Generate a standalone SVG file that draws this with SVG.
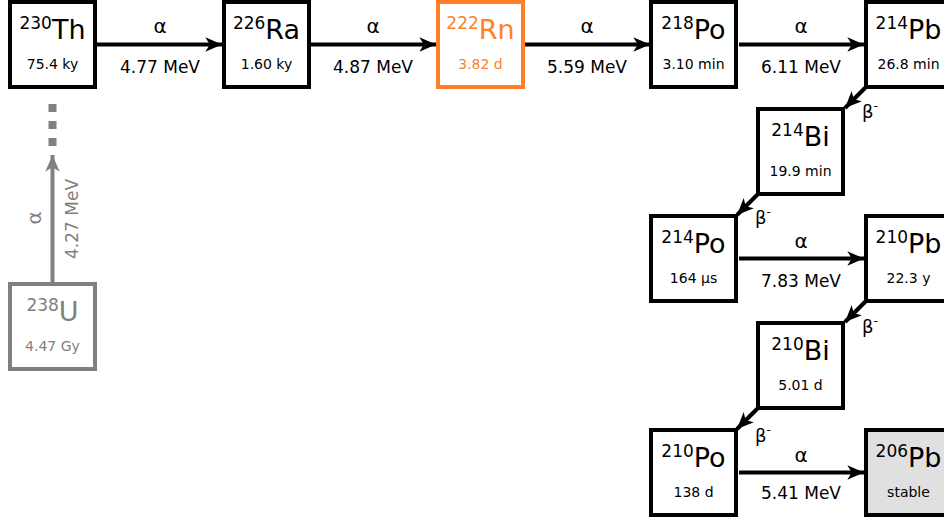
<svg xmlns="http://www.w3.org/2000/svg" width="944" height="520" viewBox="0 0 944 520">
  <style>
    text { font-family: "DejaVu Sans", Verdana, sans-serif; fill: #000; }
    .box { fill: #fff; stroke: #000; stroke-width: 4; }
    .rn .box { stroke: #ff7f2a; }
    .rn text { fill: #ff7f2a; }
    .u .box { stroke: #808080; }
    .u text { fill: #808080; }
    .stable .box { fill: #e0e0e0; }
    .sym { font-size: 27px; text-anchor: middle; }
    .mass { font-size: 17px; }
    .half { font-size: 14px; text-anchor: middle; }
    .lbl { font-size: 17px; text-anchor: middle; }
    .greek { font-size: 20px; text-anchor: middle; }
    .beta { font-size: 18px; }
    .edge { stroke: #000; stroke-width: 4; fill: none; marker-end: url(#head); }
    .edge.grey { stroke: #808080; marker-end: url(#headGrey); }
    .gtext { fill: #808080; }
  </style>
  <defs>
    <marker id="head" markerUnits="userSpaceOnUse" markerWidth="20" markerHeight="20" viewBox="-16 -8 18 16" refX="0" refY="0" orient="auto">
      <path d="M0,0 L-15,-6.5 L-11,0 L-15,6.5 Z" fill="#000"/>
    </marker>
    <marker id="headGrey" markerUnits="userSpaceOnUse" markerWidth="20" markerHeight="20" viewBox="-16 -8 18 16" refX="0" refY="0" orient="auto">
      <path d="M0,0 L-15,-6.5 L-11,0 L-15,6.5 Z" fill="#808080"/>
    </marker>
  </defs>

  <!-- decay connectors -->
  <g id="connectors">
    <line class="edge" x1="97" y1="44.5" x2="222" y2="44.5"/>
    <line class="edge" x1="311" y1="44.5" x2="436" y2="44.5"/>
    <line class="edge" x1="525" y1="44.5" x2="650" y2="44.5"/>
    <line class="edge" x1="739" y1="44.5" x2="864" y2="44.5"/>
    <line class="edge" x1="868" y1="85" x2="845" y2="108"/>
    <line class="edge" x1="760" y1="192" x2="737" y2="215"/>
    <line class="edge" x1="739" y1="258.5" x2="864" y2="258.5"/>
    <line class="edge" x1="868" y1="299" x2="845" y2="322"/>
    <line class="edge" x1="760" y1="406" x2="737" y2="429"/>
    <line class="edge" x1="739" y1="472.5" x2="864" y2="472.5"/>
    <line class="edge grey" x1="52.5" y1="282" x2="52.5" y2="155"/>
    <line x1="52.5" y1="104" x2="52.5" y2="147" stroke="#808080" stroke-width="8" stroke-dasharray="8 9"/>

    <text class="greek" x="160" y="33">α</text>
    <text class="lbl" x="160" y="73">4.77 MeV</text>
    <text class="greek" x="373" y="33">α</text>
    <text class="lbl" x="373" y="73">4.87 MeV</text>
    <text class="greek" x="587" y="33">α</text>
    <text class="lbl" x="587" y="73">5.59 MeV</text>
    <text class="greek" x="801" y="33">α</text>
    <text class="lbl" x="801" y="73">6.11 MeV</text>
    <text class="greek" x="801" y="248">α</text>
    <text class="lbl" x="801" y="287">7.83 MeV</text>
    <text class="greek" x="801" y="462">α</text>
    <text class="lbl" x="801" y="499">5.41 MeV</text>

    <text class="beta" x="862" y="118">β<tspan font-size="12" dy="-8">-</tspan></text>
    <text class="beta" x="755" y="224">β<tspan font-size="12" dy="-8">-</tspan></text>
    <text class="beta" x="862" y="333">β<tspan font-size="12" dy="-8">-</tspan></text>
    <text class="beta" x="755" y="442">β<tspan font-size="12" dy="-8">-</tspan></text>

    <text class="greek gtext" transform="translate(41 218) rotate(-90)">α</text>
    <text class="lbl gtext" transform="translate(78 219) rotate(-90)">4.27 MeV</text>
  </g>

  <g id="th230">
    <rect class="box" x="10" y="2" width="85" height="85"/>
    <text class="sym" x="52.5" y="39"><tspan class="mass" dy="-10">230</tspan><tspan dy="10">Th</tspan></text>
    <text class="half" x="52.5" y="69">75.4 ky</text>
  </g>
  <g id="ra226">
    <rect class="box" x="224" y="2" width="85" height="85"/>
    <text class="sym" x="266.5" y="39"><tspan class="mass" dy="-10">226</tspan><tspan dy="10">Ra</tspan></text>
    <text class="half" x="266.5" y="69">1.60 ky</text>
  </g>
  <g id="rn222" class="rn">
    <rect class="box" x="438" y="2" width="85" height="85"/>
    <text class="sym" x="480.5" y="39"><tspan class="mass" dy="-10">222</tspan><tspan dy="10">Rn</tspan></text>
    <text class="half" x="480.5" y="69">3.82 d</text>
  </g>
  <g id="po218">
    <rect class="box" x="651" y="2" width="85" height="85"/>
    <text class="sym" x="693.5" y="39"><tspan class="mass" dy="-10">218</tspan><tspan dy="10">Po</tspan></text>
    <text class="half" x="693.5" y="69">3.10 min</text>
  </g>
  <g id="pb214">
    <rect class="box" x="866" y="2" width="85" height="85"/>
    <text class="sym" x="908.5" y="39"><tspan class="mass" dy="-10">214</tspan><tspan dy="10">Pb</tspan></text>
    <text class="half" x="908.5" y="69">26.8 min</text>
  </g>
  <g id="bi214">
    <rect class="box" x="758" y="109" width="85" height="85"/>
    <text class="sym" x="800.5" y="146"><tspan class="mass" dy="-10">214</tspan><tspan dy="10">Bi</tspan></text>
    <text class="half" x="800.5" y="176">19.9 min</text>
  </g>
  <g id="po214">
    <rect class="box" x="651" y="216" width="85" height="85"/>
    <text class="sym" x="693.5" y="253"><tspan class="mass" dy="-10">214</tspan><tspan dy="10">Po</tspan></text>
    <text class="half" x="693.5" y="283">164 µs</text>
  </g>
  <g id="pb210">
    <rect class="box" x="866" y="216" width="85" height="85"/>
    <text class="sym" x="908.5" y="253"><tspan class="mass" dy="-10">210</tspan><tspan dy="10">Pb</tspan></text>
    <text class="half" x="908.5" y="283">22.3 y</text>
  </g>
  <g id="bi210">
    <rect class="box" x="758" y="323" width="85" height="85"/>
    <text class="sym" x="800.5" y="360"><tspan class="mass" dy="-10">210</tspan><tspan dy="10">Bi</tspan></text>
    <text class="half" x="800.5" y="390">5.01 d</text>
  </g>
  <g id="po210">
    <rect class="box" x="651" y="430" width="85" height="85"/>
    <text class="sym" x="693.5" y="467"><tspan class="mass" dy="-10">210</tspan><tspan dy="10">Po</tspan></text>
    <text class="half" x="693.5" y="497">138 d</text>
  </g>
  <g id="pb206" class="stable">
    <rect class="box" x="866" y="430" width="85" height="85"/>
    <text class="sym" x="908.5" y="467"><tspan class="mass" dy="-10">206</tspan><tspan dy="10">Pb</tspan></text>
    <text class="half" x="908.5" y="497">stable</text>
  </g>
  <g id="u238" class="u">
    <rect class="box" x="10" y="284" width="85" height="85"/>
    <text class="sym" x="52.5" y="321"><tspan class="mass" dy="-10">238</tspan><tspan dy="10">U</tspan></text>
    <text class="half" x="52.5" y="351">4.47 Gy</text>
  </g>
</svg>
